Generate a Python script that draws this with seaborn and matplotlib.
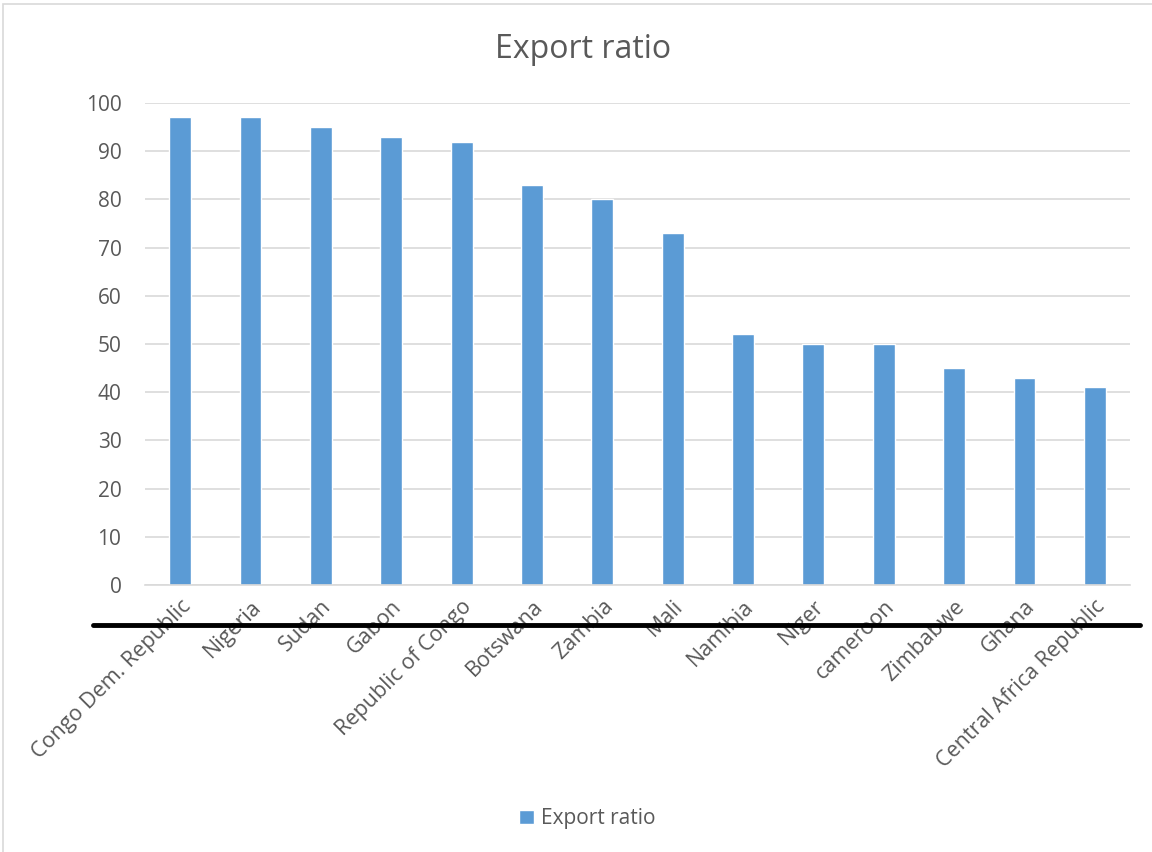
import pandas as pd
import matplotlib.pyplot as plt
import seaborn as sns
from matplotlib.lines import Line2D
from matplotlib.patches import Rectangle

countries = ["Congo Dem. Republic", "Nigeria", "Sudan", "Gabon", "Republic of Congo",
             "Botswana", "Zambia", "Mali", "Namibia", "Niger", "cameroon",
             "Zimbabwe", "Ghana", "Central Africa Republic"]
export_ratio = [97, 97, 95, 93, 92, 83, 80, 73, 52, 50, 50, 45, 43, 41]
y_ticks = list(range(0, 101, 10))

df = pd.DataFrame({"Country": countries, "Export ratio": export_ratio})

sns.set_style("white")
plt.rcParams['font.family'] = ['Open Sans', 'DejaVu Sans']
grey = "#595959"

fig = plt.figure(figsize=(11.52, 8.52), dpi=100)
ax = fig.add_axes([145 / 1152, 1 - 585 / 852, (1130 - 145) / 1152, (585 - 103) / 852])

sns.barplot(data=df, x="Country", y="Export ratio", color="#5B9BD5", width=0.31,
            saturation=1, label="Export ratio", ax=ax)

ax.set_ylim(0, 100)
ax.set_yticks(y_ticks)
ax.yaxis.grid(True, color="#D9D9D9", linewidth=1.2)
ax.set_axisbelow(True)
for s in ["top", "right", "left"]:
    ax.spines[s].set_visible(False)
ax.spines["bottom"].set_color("#D9D9D9")
ax.spines["bottom"].set_linewidth(1.2)
ax.set_xlabel("")
ax.set_ylabel("")
ax.tick_params(axis="y", labelsize=15, colors=grey, length=0, pad=17)
ax.tick_params(axis="x", labelsize=15.5, colors=grey, length=0, pad=8)
plt.setp(ax.get_xticklabels(), rotation=45, ha="right", rotation_mode="anchor")

fig.text(583 / 1152, 1 - 50 / 852, "Export ratio", fontsize=23, color=grey,
         ha="center", va="center")

leg = ax.legend(loc="center", bbox_to_anchor=(0.449, -0.485), frameon=False,
                fontsize=15, handlelength=0.7, handleheight=0.7, handletextpad=0.35)
for t in leg.get_texts():
    t.set_color(grey)

# chart frame and the thick rule through the labels
fig.add_artist(Rectangle((3 / 1152, -0.01), 1.2, 1 - 4 / 852 + 0.01, transform=fig.transFigure,
                         fill=False, edgecolor="#D9D9D9", linewidth=1.2))
fig.add_artist(Line2D([93 / 1152, 1140 / 1152], [1 - 625 / 852, 1 - 625 / 852],
                      transform=fig.transFigure, color="black", linewidth=3.5))

fig.savefig("out.png", dpi=100)
